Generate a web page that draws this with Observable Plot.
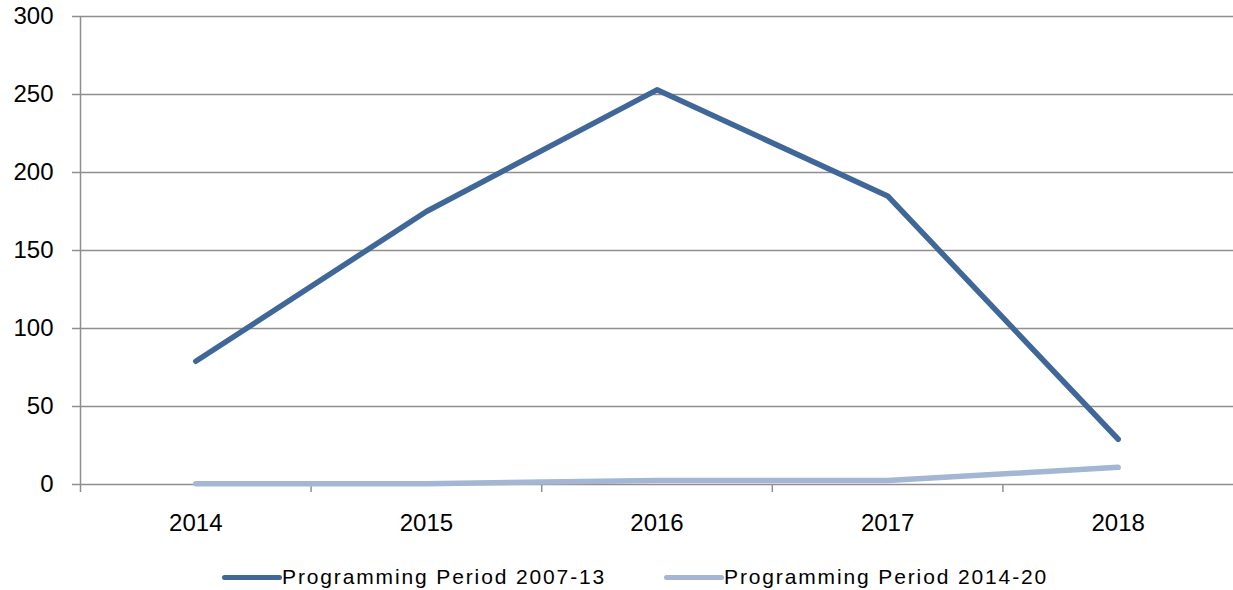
<!DOCTYPE html>
<html>
<head>
<meta charset="utf-8">
<script src="https://cdn.jsdelivr.net/npm/d3@7"></script>
<script src="https://cdn.jsdelivr.net/npm/@observablehq/plot@0.6"></script>
<style>
  body { margin: 0; background: #fff; }
  #chart svg { display: block; }
  #legend { position: relative; height: 45px; font-family: "Liberation Sans"; font-size: 21px; }
  .item { position: absolute; top: 20px; display: flex; align-items: center; color: #000; white-space: nowrap; }
  .sw { width: 60px; height: 5px; border-radius: 3px; }
</style>
</head>
<body>
<div id="chart"></div>
<div id="legend"></div>
<script>
const years = [2014, 2015, 2016, 2017, 2018];
const period2007_13 = [79, 175, 253, 185, 29];
const period2014_20 = [0.5, 0.5, 2.5, 2.5, 11];
const seriesNames = ["Programming Period 2007-13", "Programming Period 2014-20"];
const seriesColors = ["#3F6797", "#A3B6D4"];
const yTicks = [0, 50, 100, 150, 200, 250, 300];
const bandEdges = [2013.5, 2014.5, 2015.5, 2016.5, 2017.5, 2018.5];

const rows = [];
years.forEach((yr, i) => {
  rows.push({year: yr, value: period2007_13[i], series: seriesNames[0]});
  rows.push({year: yr, value: period2014_20[i], series: seriesNames[1]});
});

const gridColor = "#8f8f8f";

const chart = Plot.plot({
  width: 1233,
  height: 545,
  marginLeft: 80,
  marginRight: 0,
  marginTop: 16,
  marginBottom: 61,
  style: {fontFamily: "Liberation Sans", fontSize: "24px", color: "#000", background: "#fff"},
  x: {domain: [bandEdges[0], bandEdges[bandEdges.length - 1]]},
  y: {domain: [0, 300]},
  color: {domain: seriesNames, range: seriesColors},
  marks: [
    Plot.gridY(yTicks, {stroke: gridColor, strokeOpacity: 1, strokeWidth: 1.5}),
    Plot.axisY(yTicks, {tickSize: 8, tickPadding: 19, stroke: gridColor, strokeWidth: 1.5, fontSize: 24, label: null, tickFormat: d => String(d)}),
    Plot.ruleX([bandEdges[0]], {stroke: gridColor, strokeWidth: 1.5, insetBottom: -8}),
    Plot.axisX(bandEdges.slice(1, -1), {tickSize: 8, stroke: gridColor, strokeWidth: 1.5, tickFormat: () => "", label: null}),
    Plot.axisX(years, {tickSize: 0, tickPadding: 29, fontSize: 24, tickFormat: d => String(d), label: null}),
    Plot.lineY(rows.filter(d => d.series === seriesNames[1]), {x: "year", y: "value", stroke: seriesColors[1], strokeWidth: 5.5, strokeLinecap: "round", strokeLinejoin: "round"}),
    Plot.lineY(rows.filter(d => d.series === seriesNames[0]), {x: "year", y: "value", stroke: seriesColors[0], strokeWidth: 5.5, strokeLinecap: "round", strokeLinejoin: "round"})
  ]
});
document.getElementById("chart").appendChild(chart);

const legend = document.getElementById("legend");
const lefts = [222, 664];
const targetTextWidth = 324;
const ctx = document.createElement("canvas").getContext("2d");
ctx.font = "21px 'Liberation Sans'";
seriesNames.forEach((name, i) => {
  const item = document.createElement("div");
  item.className = "item";
  item.style.left = lefts[i] + "px";
  const sw = document.createElement("span");
  sw.className = "sw";
  sw.style.background = seriesColors[i];
  const tx = document.createElement("span");
  tx.textContent = name;
  const w = ctx.measureText(name).width;
  tx.style.letterSpacing = ((targetTextWidth - w) / name.length).toFixed(2) + "px";
  item.appendChild(sw);
  item.appendChild(tx);
  legend.appendChild(item);
});
</script>
</body>
</html>
